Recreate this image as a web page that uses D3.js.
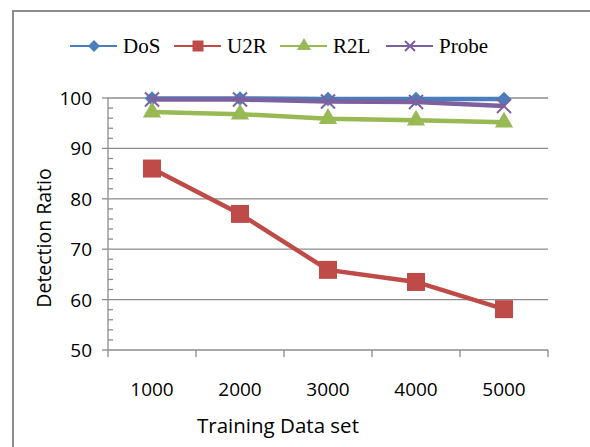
<!DOCTYPE html>
<html>
<head>
<meta charset="utf-8">
<script src="https://cdn.jsdelivr.net/npm/d3@7"></script>
<style>
  body { margin: 0; background: #fff; }
  svg { display: block; }
</style>
</head>
<body>
<div id="chart"></div>
<script>
// data
var categories = ["1000", "2000", "3000", "4000", "5000"];
var seriesNames = ["DoS", "U2R", "R2L", "Probe"];
var dos = [99.9, 99.9, 99.8, 99.8, 99.8];
var u2r = [86.0, 77.0, 65.9, 63.5, 58.1];
var r2l = [97.2, 96.8, 95.9, 95.6, 95.2];
var probe = [99.7, 99.7, 99.3, 99.2, 98.4];
var yTicks = [50, 60, 70, 80, 90, 100];

var colors = { DoS: "#4a7ebb", U2R: "#be4b48", R2L: "#98b954", Probe: "#7d60a0" };
var values = { DoS: dos, U2R: u2r, R2L: r2l, Probe: probe };

var width = 590, height = 447;
var axisFont = "'Open Sans', sans-serif";
var svg = d3.select("#chart").append("svg")
  .attr("width", width)
  .attr("height", height);

// outer frame
svg.append("rect")
  .attr("x", 13).attr("y", 11)
  .attr("width", 600).attr("height", 460)
  .attr("fill", "none")
  .attr("stroke", "#8c8c8c")
  .attr("stroke-width", 2);

var x = d3.scaleBand().domain(categories).range([108, 548]);
var y = d3.scaleLinear().domain([50, 100]).range([350, 98]);

// gridlines
svg.append("g").selectAll("line")
  .data(yTicks.filter(d => d > 50))
  .join("line")
  .attr("x1", 108).attr("x2", 548)
  .attr("y1", d => y(d)).attr("y2", d => y(d))
  .attr("stroke", "#8c8c8c").attr("stroke-width", 1.3);

// y axis
var yAxis = svg.append("g");
yAxis.append("line")
  .attr("x1", 108).attr("x2", 108).attr("y1", y(100)).attr("y2", y(50))
  .attr("stroke", "#8c8c8c").attr("stroke-width", 1.3);
yAxis.selectAll(".major")
  .data(yTicks)
  .join("line")
  .attr("x1", 102).attr("x2", 108)
  .attr("y1", d => y(d)).attr("y2", d => y(d))
  .attr("stroke", "#8c8c8c").attr("stroke-width", 1.3);
yAxis.selectAll(".minor")
  .data(d3.range(52, 100, 2).filter(d => d % 10 != 0))
  .join("line")
  .attr("x1", 108).attr("x2", 113)
  .attr("y1", d => y(d)).attr("y2", d => y(d))
  .attr("stroke", "#8c8c8c").attr("stroke-width", 1.3);
yAxis.selectAll("text")
  .data(yTicks)
  .join("text")
  .attr("x", 92).attr("y", d => y(d) + 7)
  .attr("text-anchor", "end")
  .attr("font-family", axisFont)
  .attr("font-size", 19)
  .text(d => d);

// x axis
var xAxis = svg.append("g");
xAxis.append("line")
  .attr("x1", 108).attr("x2", 548).attr("y1", 350).attr("y2", 350)
  .attr("stroke", "#8c8c8c").attr("stroke-width", 1.3);
var bounds = categories.map(c => x(c)).concat([x.range()[1]]);
xAxis.selectAll(".tick")
  .data(bounds)
  .join("line")
  .attr("x1", d => d).attr("x2", d => d).attr("y1", 350).attr("y2", 357)
  .attr("stroke", "#8c8c8c").attr("stroke-width", 1.3);
xAxis.selectAll("text")
  .data(categories)
  .join("text")
  .attr("x", d => x(d) + x.bandwidth() / 2).attr("y", 396)
  .attr("text-anchor", "middle")
  .attr("font-family", axisFont)
  .attr("font-size", 19)
  .text(d => d);

svg.append("text")
  .attr("x", 278).attr("y", 433)
  .attr("text-anchor", "middle")
  .attr("font-family", axisFont)
  .attr("font-size", 20.5)
  .text("Training Data set");

svg.append("text")
  .attr("transform", "translate(51,238) rotate(-90)")
  .attr("text-anchor", "middle")
  .attr("font-family", axisFont)
  .attr("font-size", 19.5)
  .text("Detection Ratio");

function marker(g, name, size) {
  if (name == "DoS") {
    g.append("path").attr("d", d3.symbol(d3.symbolDiamond2, size * 9)).attr("fill", colors[name]);
  } else if (name == "U2R") {
    g.append("rect").attr("x", -size / 2).attr("y", -size / 2)
      .attr("width", size).attr("height", size).attr("fill", colors[name]);
  } else if (name == "R2L") {
    g.append("path").attr("d", d3.symbol(d3.symbolTriangle, size * 8.5)).attr("fill", colors[name]);
  } else {
    var h = size / 2;
    g.append("path").attr("d", `M${-h},${-h}L${h},${h}M${-h},${h}L${h},${-h}`)
      .attr("stroke", colors[name]).attr("stroke-width", 2).attr("fill", "none");
  }
}

var line = d3.line()
  .x((d, i) => x(categories[i]) + x.bandwidth() / 2)
  .y(d => y(d));

var sizes = { DoS: 15, U2R: 18, R2L: 17, Probe: 14 };

seriesNames.forEach(function (name) {
  var g = svg.append("g");
  g.append("path")
    .datum(values[name])
    .attr("d", line)
    .attr("fill", "none")
    .attr("stroke", colors[name])
    .attr("stroke-width", 4.5);
  values[name].forEach(function (v, i) {
    var m = g.append("g")
      .attr("transform", `translate(${x(categories[i]) + x.bandwidth() / 2},${y(v)})`);
    marker(m, name, sizes[name]);
  });
});

// legend
var legendX = [70, 174, 280, 386];
seriesNames.forEach(function (name, i) {
  var lg = svg.append("g").attr("transform", `translate(${legendX[i]},46)`);
  lg.append("line")
    .attr("x1", 0).attr("x2", 47).attr("y1", 0).attr("y2", 0)
    .attr("stroke", colors[name]).attr("stroke-width", 2);
  var m = lg.append("g").attr("transform", "translate(24,0)");
  marker(m, name, name == "U2R" ? 11 : 10);
  lg.append("text")
    .attr("x", 53).attr("y", 7)
    .attr("font-family", "'Liberation Serif', 'Times New Roman', serif")
    .attr("font-size", 21)
    .text(name);
});
</script>
</body>
</html>
